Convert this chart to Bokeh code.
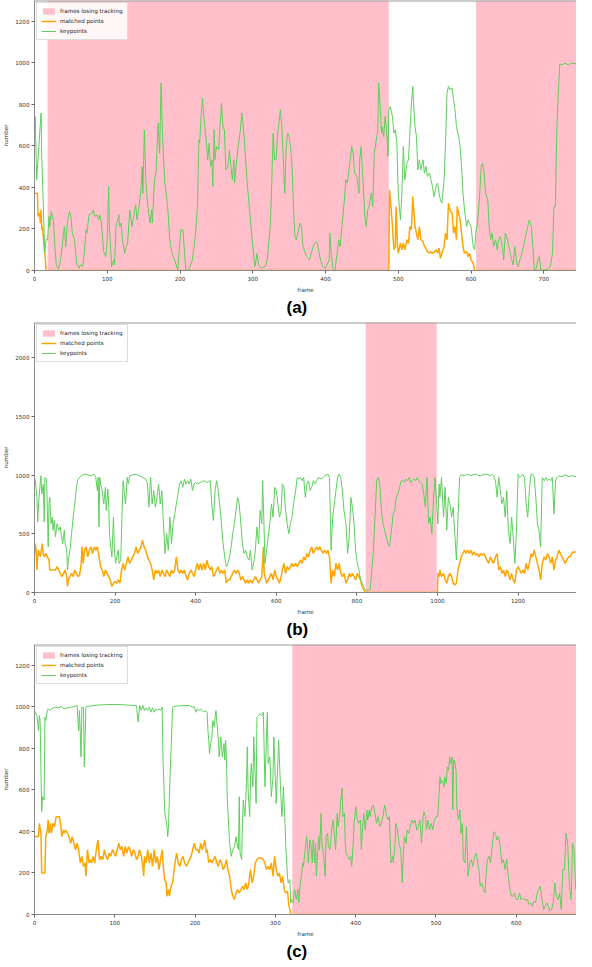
from bokeh.plotting import figure
from bokeh.models import Range1d, FixedTicker, Legend, LegendItem, Span, Title
from bokeh.layouts import column
from bokeh.embed import file_html
from bokeh.resources import INLINE

# ---------------- panel (a) ----------------
A_KP_FRAME = [0,1,3,9,10,13,14,16,18,20,21,23,26,28,30,33,36,40,41,43,45,48,50,52,55,58,61,63,66,68,71,72,75,79,81,83,86,88,90,92,95,98,100,102,103,106,109,110,112,116,117,119,121,124,126,128,131,134,137,139,141,143,146,148,149,151,153,155,157,159,161,162,165,167,170,172,174,176,179,181,183,186,189,191,197,201,204,207,208,212,217,221,224,226,227,229,231,232,235,236,238,240,242,244,245,247,248,250,253,257,259,261,263,266,268,270,272,274,275,277,280,283,285,287,289,292,296,300,303,306,308,312,317,320,324,326,328,330,332,334,338,340,344,346,348,350,352,354,356,358,360,362,365,367,369,374,378,383,387,389,392,396,400,405,406,408,410,413,416,418,420,423,426,428,430,434,436,438,440,443,446,447,449,452,454,456,458,460,463,465,467,469,472,473,475,477,478,480,482,484,486,487,489,492,494,496,498,500,503,505,507,509,512,514,516,518,520,521,523,525,527,529,531,534,536,538,540,543,545,547,549,552,554,556,558,560,563,565,567,569,571,574,576,578,580,583,585,587,589,591,594,596,598,600,603,605,607,609,612,614,616,618,620,623,625,627,629,631,634,636,638,640,643,645,647,649,652,654,656,658,660,663,665,667,669,672,674,676,678,680,683,685,687,689,692,694,696,698,703,707,709,712,714,716,718,720,722,725,729,734,738,745]
A_KP_VALUE = [661,741,437,758,549,212,83,150,148,260,212,284,240,116,27,6,51,180,212,116,228,284,260,180,148,35,11,27,19,67,196,180,268,276,292,260,268,244,268,228,91,67,148,405,212,19,51,27,212,268,212,228,148,83,116,132,292,212,276,316,244,292,372,500,372,677,437,340,276,228,292,228,437,469,710,565,902,645,421,372,308,148,83,67,3,196,196,51,3,3,51,164,308,629,613,741,830,774,661,629,533,613,501,533,405,677,533,597,581,806,693,677,485,501,581,501,437,533,421,501,597,677,758,693,597,437,276,116,19,83,27,11,19,51,212,405,661,533,533,645,774,693,372,597,661,645,597,501,308,164,148,180,228,212,116,67,51,116,140,132,67,19,11,51,180,83,11,3,83,148,116,228,340,437,421,533,597,565,469,453,372,533,597,405,260,212,292,308,372,308,565,613,677,902,806,661,693,645,741,677,549,774,790,741,661,677,613,372,244,372,597,437,517,533,661,806,886,806,693,645,485,533,485,533,469,501,453,469,437,405,356,405,421,372,340,324,437,613,854,886,870,878,822,774,693,645,597,501,372,292,212,244,228,212,116,100,196,228,372,501,517,469,372,340,212,148,180,116,148,100,148,164,116,51,180,164,116,83,51,27,116,35,19,51,67,116,148,180,212,244,212,116,3,3,51,67,3,3,3,11,19,83,308,308,693,854,995,990,998,990,998,995]
A_MP_FRAME = [0,4,5,7,8,9,10,11,12,14,15,16,487,488,490,492,494,496,497,499,500,503,505,507,509,512,514,516,518,520,521,523,525,527,529,531,534,536,538,540,543,545,547,549,552,554,556,558,560,563,565,567,569,571,574,576,578,580,581,585,587,589,591,594,596,598,600,603,605,745]
A_MP_VALUE = [372,372,260,276,228,292,196,212,164,83,51,0,0,388,308,212,100,116,308,116,83,132,100,132,100,148,132,212,196,356,308,212,180,148,212,148,140,116,108,91,83,91,83,87,100,83,108,59,83,116,180,148,324,292,276,180,212,148,308,244,180,116,83,91,67,83,51,35,0,0]
A_LOSS_START = [18, 607]
A_LOSS_END = [487, 745]

# ---------------- panel (b) ----------------
B_KP_FRAME = [0,2,6,8,10,14,16,18,22,24,26,30,32,34,36,38,41,44,46,49,52,56,60,64,66,70,74,76,80,82,84,88,92,96,100,104,108,116,124,132,140,148,152,156,158,160,162,164,168,172,176,178,182,184,186,190,192,196,198,201,204,208,210,214,217,220,224,226,230,233,236,244,252,260,268,276,280,284,288,292,296,300,304,308,312,316,320,324,328,332,336,340,344,348,352,356,360,364,368,372,376,380,384,388,392,396,400,404,412,420,428,436,440,444,448,452,456,460,464,468,472,476,480,484,488,492,496,500,504,508,512,516,520,524,528,532,536,540,544,548,552,556,560,564,566,569,572,576,580,584,588,592,596,600,604,608,612,615,619,623,627,631,635,639,643,648,652,656,660,664,668,672,676,680,684,688,692,696,704,712,720,728,732,736,740,744,748,752,756,760,764,768,773,777,781,785,789,793,797,801,805,809,813,817,821,825,833,837,841,845,849,853,857,861,865,869,873,877,881,886,890,894,898,902,906,910,914,918,922,926,930,934,938,942,946,950,954,958,962,966,970,974,978,982,986,990,994,998,1001,1004,1006,1010,1015,1019,1023,1027,1031,1035,1039,1043,1047,1051,1055,1059,1067,1075,1083,1091,1099,1107,1115,1123,1131,1135,1139,1144,1148,1152,1156,1160,1164,1168,1172,1176,1180,1184,1188,1192,1196,1200,1204,1208,1212,1216,1220,1224,1228,1232,1236,1240,1244,1248,1252,1256,1260,1265,1269,1273,1277,1281,1285,1289,1293,1297,1301,1309,1317,1325,1333,1345]
B_KP_VALUE = [980,952,811,600,755,924,994,839,924,600,980,966,699,389,755,811,586,642,530,614,474,586,530,558,501,417,530,417,361,192,276,361,501,642,755,896,966,994,1008,1003,994,1008,980,868,980,558,980,924,868,755,896,699,882,755,501,361,304,642,389,248,304,361,248,276,642,952,811,755,980,924,994,1003,1008,994,980,966,938,727,980,755,868,727,811,924,755,868,586,332,501,361,642,417,586,670,755,839,924,952,896,966,924,952,924,966,868,924,938,924,938,952,938,952,755,614,868,952,868,727,586,417,304,220,248,304,389,501,586,699,811,755,586,417,332,361,304,276,361,192,248,361,558,417,699,586,952,642,248,361,474,586,755,642,896,868,755,642,699,924,896,699,586,501,586,642,755,868,980,966,980,952,980,811,924,952,868,896,952,924,980,966,994,1008,980,361,642,755,868,980,1008,980,868,699,586,332,473,811,727,586,361,248,192,107,79,51,23,17,23,192,361,642,952,980,924,699,586,530,473,417,389,530,670,699,811,839,896,952,952,938,966,952,980,938,952,966,952,980,952,938,924,839,727,980,586,642,501,783,980,755,586,924,811,980,642,896,530,811,755,642,727,501,276,642,980,1003,994,1008,994,1008,1003,994,1008,1008,994,1008,994,952,811,980,868,755,811,642,868,530,417,642,473,248,530,1008,980,994,1008,980,755,642,868,1008,1008,980,811,586,530,389,980,952,980,952,966,952,980,670,952,980,994,986,1003,986,994,986]
B_MP_FRAME = [0,2,4,6,8,10,14,17,19,22,25,28,32,36,38,42,48,52,56,60,64,68,72,76,80,82,84,88,92,96,100,104,108,112,116,118,121,124,128,132,136,140,144,148,152,156,160,164,168,172,176,180,184,188,192,196,200,204,208,212,216,220,224,228,232,236,240,244,248,252,256,260,264,268,272,276,280,284,288,292,296,300,304,308,312,316,320,324,328,332,336,340,344,348,352,356,360,364,368,372,376,380,384,388,392,396,400,404,408,412,416,420,424,428,432,436,440,444,448,452,456,460,464,468,472,476,480,484,488,492,496,500,504,508,512,516,520,524,528,532,536,540,544,548,552,556,560,564,568,570,574,576,580,584,588,592,596,600,604,608,612,615,619,623,627,631,635,639,643,648,652,656,660,664,668,672,676,680,684,688,692,696,700,704,708,712,716,720,724,728,732,736,740,744,748,752,756,760,764,768,773,777,781,785,789,793,797,801,805,809,813,817,821,1000,1001,1004,1006,1010,1015,1019,1023,1027,1031,1035,1039,1043,1047,1051,1055,1059,1063,1067,1071,1075,1079,1083,1087,1091,1095,1099,1103,1107,1111,1115,1119,1123,1127,1131,1135,1139,1144,1148,1152,1156,1160,1164,1168,1172,1176,1180,1184,1188,1192,1196,1200,1204,1208,1212,1216,1220,1224,1228,1232,1236,1240,1244,1248,1252,1256,1260,1265,1269,1273,1277,1281,1285,1289,1293,1297,1301,1305,1309,1313,1317,1321,1325,1329,1333,1337,1345]
B_MP_VALUE = [332,417,361,192,304,361,304,361,417,318,304,332,304,276,192,192,192,192,220,192,163,135,163,192,135,51,107,135,163,135,192,163,135,149,248,389,248,361,389,304,361,389,332,389,361,389,304,220,192,135,192,163,135,107,51,79,93,79,107,79,192,248,192,248,304,248,276,304,332,389,332,361,389,445,389,361,304,276,248,192,107,192,163,192,135,192,163,135,192,163,135,192,163,192,304,192,163,192,163,192,135,107,163,192,163,135,192,248,192,248,192,248,192,276,220,192,220,135,163,192,220,163,192,163,192,79,107,107,135,163,192,163,192,163,107,135,107,79,107,79,107,79,107,135,107,79,107,135,389,163,107,79,107,135,163,107,192,135,107,79,135,192,248,163,220,192,220,248,220,248,220,248,276,248,304,276,332,304,361,389,332,361,389,361,389,361,332,361,332,361,304,79,192,135,248,192,248,163,135,163,79,107,163,135,163,135,107,163,135,107,51,23,0,0,163,135,192,135,163,107,79,135,163,135,79,65,79,192,248,304,332,361,332,361,332,361,318,346,318,332,304,332,318,332,304,276,248,304,276,248,304,332,192,220,163,192,135,192,163,107,163,107,79,192,220,192,163,192,163,248,192,248,332,304,361,304,248,192,107,248,304,276,332,304,248,304,192,276,304,361,332,304,276,248,276,304,304,332,346,346]
B_LOSS_START = [822]
B_LOSS_END = [998]

# ---------------- panel (c) ----------------
C_KP_FRAME = [0,1,3,5,6,7,8,9,10,12,13,14,16,17,19,21,25,29,33,37,41,45,49,53,55,56,58,59,61,62,64,65,73,81,93,105,117,127,129,131,133,135,137,139,141,143,145,147,149,151,153,155,157,159,160,161,162,163,165,166,167,168,170,172,173,177,185,193,197,199,201,203,205,207,209,211,213,215,216,217,218,220,221,222,224,225,226,228,229,230,232,233,234,236,237,238,239,240,241,243,245,247,249,251,252,254,255,256,258,259,260,262,264,265,266,268,269,270,272,273,274,276,277,279,281,283,285,287,289,290,291,293,295,297,298,300,301,303,304,306,308,309,310,312,313,315,316,318,319,320,322,324,326,328,329,331,333,334,335,337,339,340,341,343,344,346,347,349,350,351,353,354,355,357,358,360,362,363,365,366,368,370,372,374,375,377,378,380,381,383,384,386,387,388,390,392,394,395,397,398,400,402,404,406,407,409,410,412,414,415,417,418,420,422,424,426,428,430,432,434,436,438,440,442,444,446,447,449,450,452,454,456,457,458,460,461,463,464,466,468,470,472,474,476,478,480,482,484,485,487,488,490,492,494,496,498,500,502,503,505,506,508,510,511,513,514,516,517,518,520,521,522,523,525,526,528,530,531,533,534,536,538,540,542,544,546,548,550,552,554,555,557,559,561,562,564,566,568,570,572,574,576,578,580,582,584,586,588,590,592,594,596,598,600,602,604,606,608,610,612,614,616,618,620,622,624,626,628,630,632,634,636,638,640,642,644,646,648,650,652,654,656,658,660,662,664,666,668,669,670,672,674]
C_KP_VALUE = [982,974,958,886,958,934,695,495,567,551,950,934,982,990,982,990,998,995,1001,990,995,998,1001,1006,886,982,758,998,998,711,998,1001,1006,1009,1011,1011,1008,1006,927,1006,982,1006,982,995,982,998,974,995,974,990,982,990,982,998,743,647,503,471,423,375,439,567,791,998,1001,1004,1006,1006,998,1001,974,990,982,990,982,974,982,974,886,839,775,839,855,934,902,950,982,886,839,759,855,807,759,823,743,839,759,567,487,343,280,312,327,375,343,312,567,296,264,439,551,471,631,807,599,471,647,727,615,855,759,535,950,958,966,958,974,615,871,974,727,759,567,663,855,647,535,727,839,647,471,519,615,439,327,184,152,168,56,72,56,120,72,120,56,152,200,248,232,312,375,327,248,359,343,248,359,248,343,184,327,375,312,487,343,280,184,375,391,327,312,407,455,359,312,487,423,471,535,607,471,487,343,296,280,264,280,232,343,439,519,455,439,455,312,439,487,407,503,455,503,471,519,527,487,439,471,423,439,471,527,487,455,471,248,280,248,343,439,407,343,312,248,152,343,375,343,407,391,423,455,439,455,407,423,455,343,471,495,471,407,455,407,439,407,455,471,471,519,663,631,647,615,663,631,711,695,759,727,759,503,743,743,695,519,455,503,391,439,264,248,423,184,248,264,232,280,296,248,200,136,152,120,104,168,264,280,248,327,399,391,359,375,327,248,264,216,264,184,120,88,88,104,72,72,104,72,80,72,69,72,48,56,40,64,56,104,120,136,72,24,40,56,40,16,24,56,152,88,72,104,24,216,216,391,343,152,72,152,343,312,120]
C_MP_FRAME = [0,5,6,8,9,13,14,16,17,18,20,21,23,25,27,29,31,33,34,36,37,39,41,43,45,47,49,51,53,55,57,59,61,63,64,66,68,69,71,73,75,77,79,81,83,85,87,89,91,93,95,97,99,101,103,105,107,109,111,113,115,117,119,121,123,125,127,129,131,133,135,136,137,139,141,143,145,147,149,151,153,155,157,159,160,162,164,165,167,168,170,172,173,175,177,179,181,183,185,187,189,191,193,195,197,199,201,203,205,207,209,211,212,214,215,217,219,221,223,225,227,229,231,233,235,237,239,241,243,245,247,249,251,253,255,257,259,261,263,265,267,269,271,273,275,277,279,281,283,285,287,289,291,293,295,297,299,301,303,305,307,309,311,313,315,317,319,320,675]
C_MP_VALUE = [375,375,439,391,200,200,375,407,455,391,439,391,439,423,471,471,471,423,375,407,391,407,391,375,343,375,343,312,343,312,248,280,232,248,184,312,248,264,248,280,248,312,359,264,280,264,312,280,264,296,280,312,296,280,312,343,312,327,280,327,296,327,312,280,312,296,264,280,312,280,232,184,280,248,312,248,296,232,312,248,280,216,264,311,248,168,152,88,120,88,136,152,184,248,295,248,232,264,280,248,232,248,264,280,312,343,312,312,296,343,312,343,359,296,312,248,264,248,264,280,248,232,264,248,216,232,264,216,184,120,88,72,104,120,104,120,136,120,152,120,152,216,152,184,248,264,272,272,272,264,248,216,232,216,248,184,280,216,184,200,152,184,120,104,112,40,8,0,0]
C_LOSS_START = [321]
C_LOSS_END = [675]

X_END = [745, 1345, 675]
Y_END = [1300, 2300, 1300]
X_STEP = [100, 200, 100]
Y_STEP = [200, 500, 200]
CAPTIONS = ["(a)", "(b)", "(c)"]
LEGEND_LABELS = ["frames losing tracking", "matched points", "keypoints"]

PINK = "#ffc0cb"
ORANGE = "#ffa500"
GREEN = "#5ccf5c"
TICK_FONT = "DejaVu Sans"
SMALL = "5.6px"


def make_panel(kp_f, kp_v, mp_f, mp_v, ls, le, x_end, y_end, x_step, y_step, caption, top):
    p = figure(width=576, frame_height=270, output_backend="svg", toolbar_location=None,
               x_range=Range1d(0, x_end), y_range=Range1d(0, y_end),
               min_border_left=0, min_border_right=0, min_border_top=top, min_border_bottom=0)
    p.background_fill_color = "white"
    p.border_fill_color = "white"
    p.outline_line_color = None
    p.grid.visible = False

    loss = p.quad(left=ls, right=le, bottom=[0] * len(ls), top=[y_end] * len(ls),
                  fill_color=PINK, line_color=None)
    mp = p.line(mp_f, mp_v, line_color=ORANGE, line_width=1.5)
    kp = p.line(kp_f, kp_v, line_color=GREEN, line_width=1)

    p.add_layout(Span(location=y_end, dimension="width", line_color="#9a9a9a", line_width=2))

    for ax in (p.xaxis[0], p.yaxis[0]):
        ax.axis_line_color = "#8a8a8a"
        ax.axis_line_width = 1
        ax.major_tick_line_color = "#666666"
        ax.major_tick_out = 3
        ax.major_tick_in = 0
        ax.minor_tick_line_color = None
        ax.major_label_text_font = TICK_FONT
        ax.major_label_text_font_size = SMALL
        ax.major_label_text_color = "#333333"
        ax.major_label_standoff = 2
        ax.axis_label_text_font = TICK_FONT
        ax.axis_label_text_font_size = SMALL
        ax.axis_label_text_font_style = "normal"
        ax.axis_label_text_color = "#333333"
        ax.axis_label_standoff = 3
    p.xaxis[0].ticker = FixedTicker(ticks=list(range(0, x_end + 1, x_step)))
    p.yaxis[0].ticker = FixedTicker(ticks=list(range(0, y_end + 1, y_step)))
    p.xaxis[0].axis_label = "frame"
    p.yaxis[0].axis_label = "number"

    legend = Legend(items=[LegendItem(label=LEGEND_LABELS[0], renderers=[loss]),
                           LegendItem(label=LEGEND_LABELS[1], renderers=[mp]),
                           LegendItem(label=LEGEND_LABELS[2], renderers=[kp])],
                    location="top_left")
    legend.label_text_font = TICK_FONT
    legend.label_text_font_size = SMALL
    legend.label_text_color = "#222222"
    legend.glyph_width = 15
    legend.glyph_height = 8
    legend.label_height = 8
    legend.label_standoff = 4
    legend.spacing = 2
    legend.padding = 4
    legend.margin = 2
    legend.border_line_color = "#dddddd"
    legend.border_line_alpha = 1
    legend.background_fill_alpha = 0.85
    p.add_layout(legend)

    p.add_layout(Title(text=caption, align="left", offset=252, text_font="Liberation Sans",
                       text_font_style="bold", text_font_size="17px", text_color="#000000",
                       standoff=0), "below")
    return p


pa = make_panel(A_KP_FRAME, A_KP_VALUE, A_MP_FRAME, A_MP_VALUE, A_LOSS_START, A_LOSS_END,
                X_END[0], Y_END[0], X_STEP[0], Y_STEP[0], CAPTIONS[0], 0)
pb = make_panel(B_KP_FRAME, B_KP_VALUE, B_MP_FRAME, B_MP_VALUE, B_LOSS_START, B_LOSS_END,
                X_END[1], Y_END[1], X_STEP[1], Y_STEP[1], CAPTIONS[1], 6)
pc = make_panel(C_KP_FRAME, C_KP_VALUE, C_MP_FRAME, C_MP_VALUE, C_LOSS_START, C_LOSS_END,
                X_END[2], Y_END[2], X_STEP[2], Y_STEP[2], CAPTIONS[2], 6)

layout = column(pa, pb, pc, spacing=0)
open("out.html", "w").write(file_html(layout, INLINE))
